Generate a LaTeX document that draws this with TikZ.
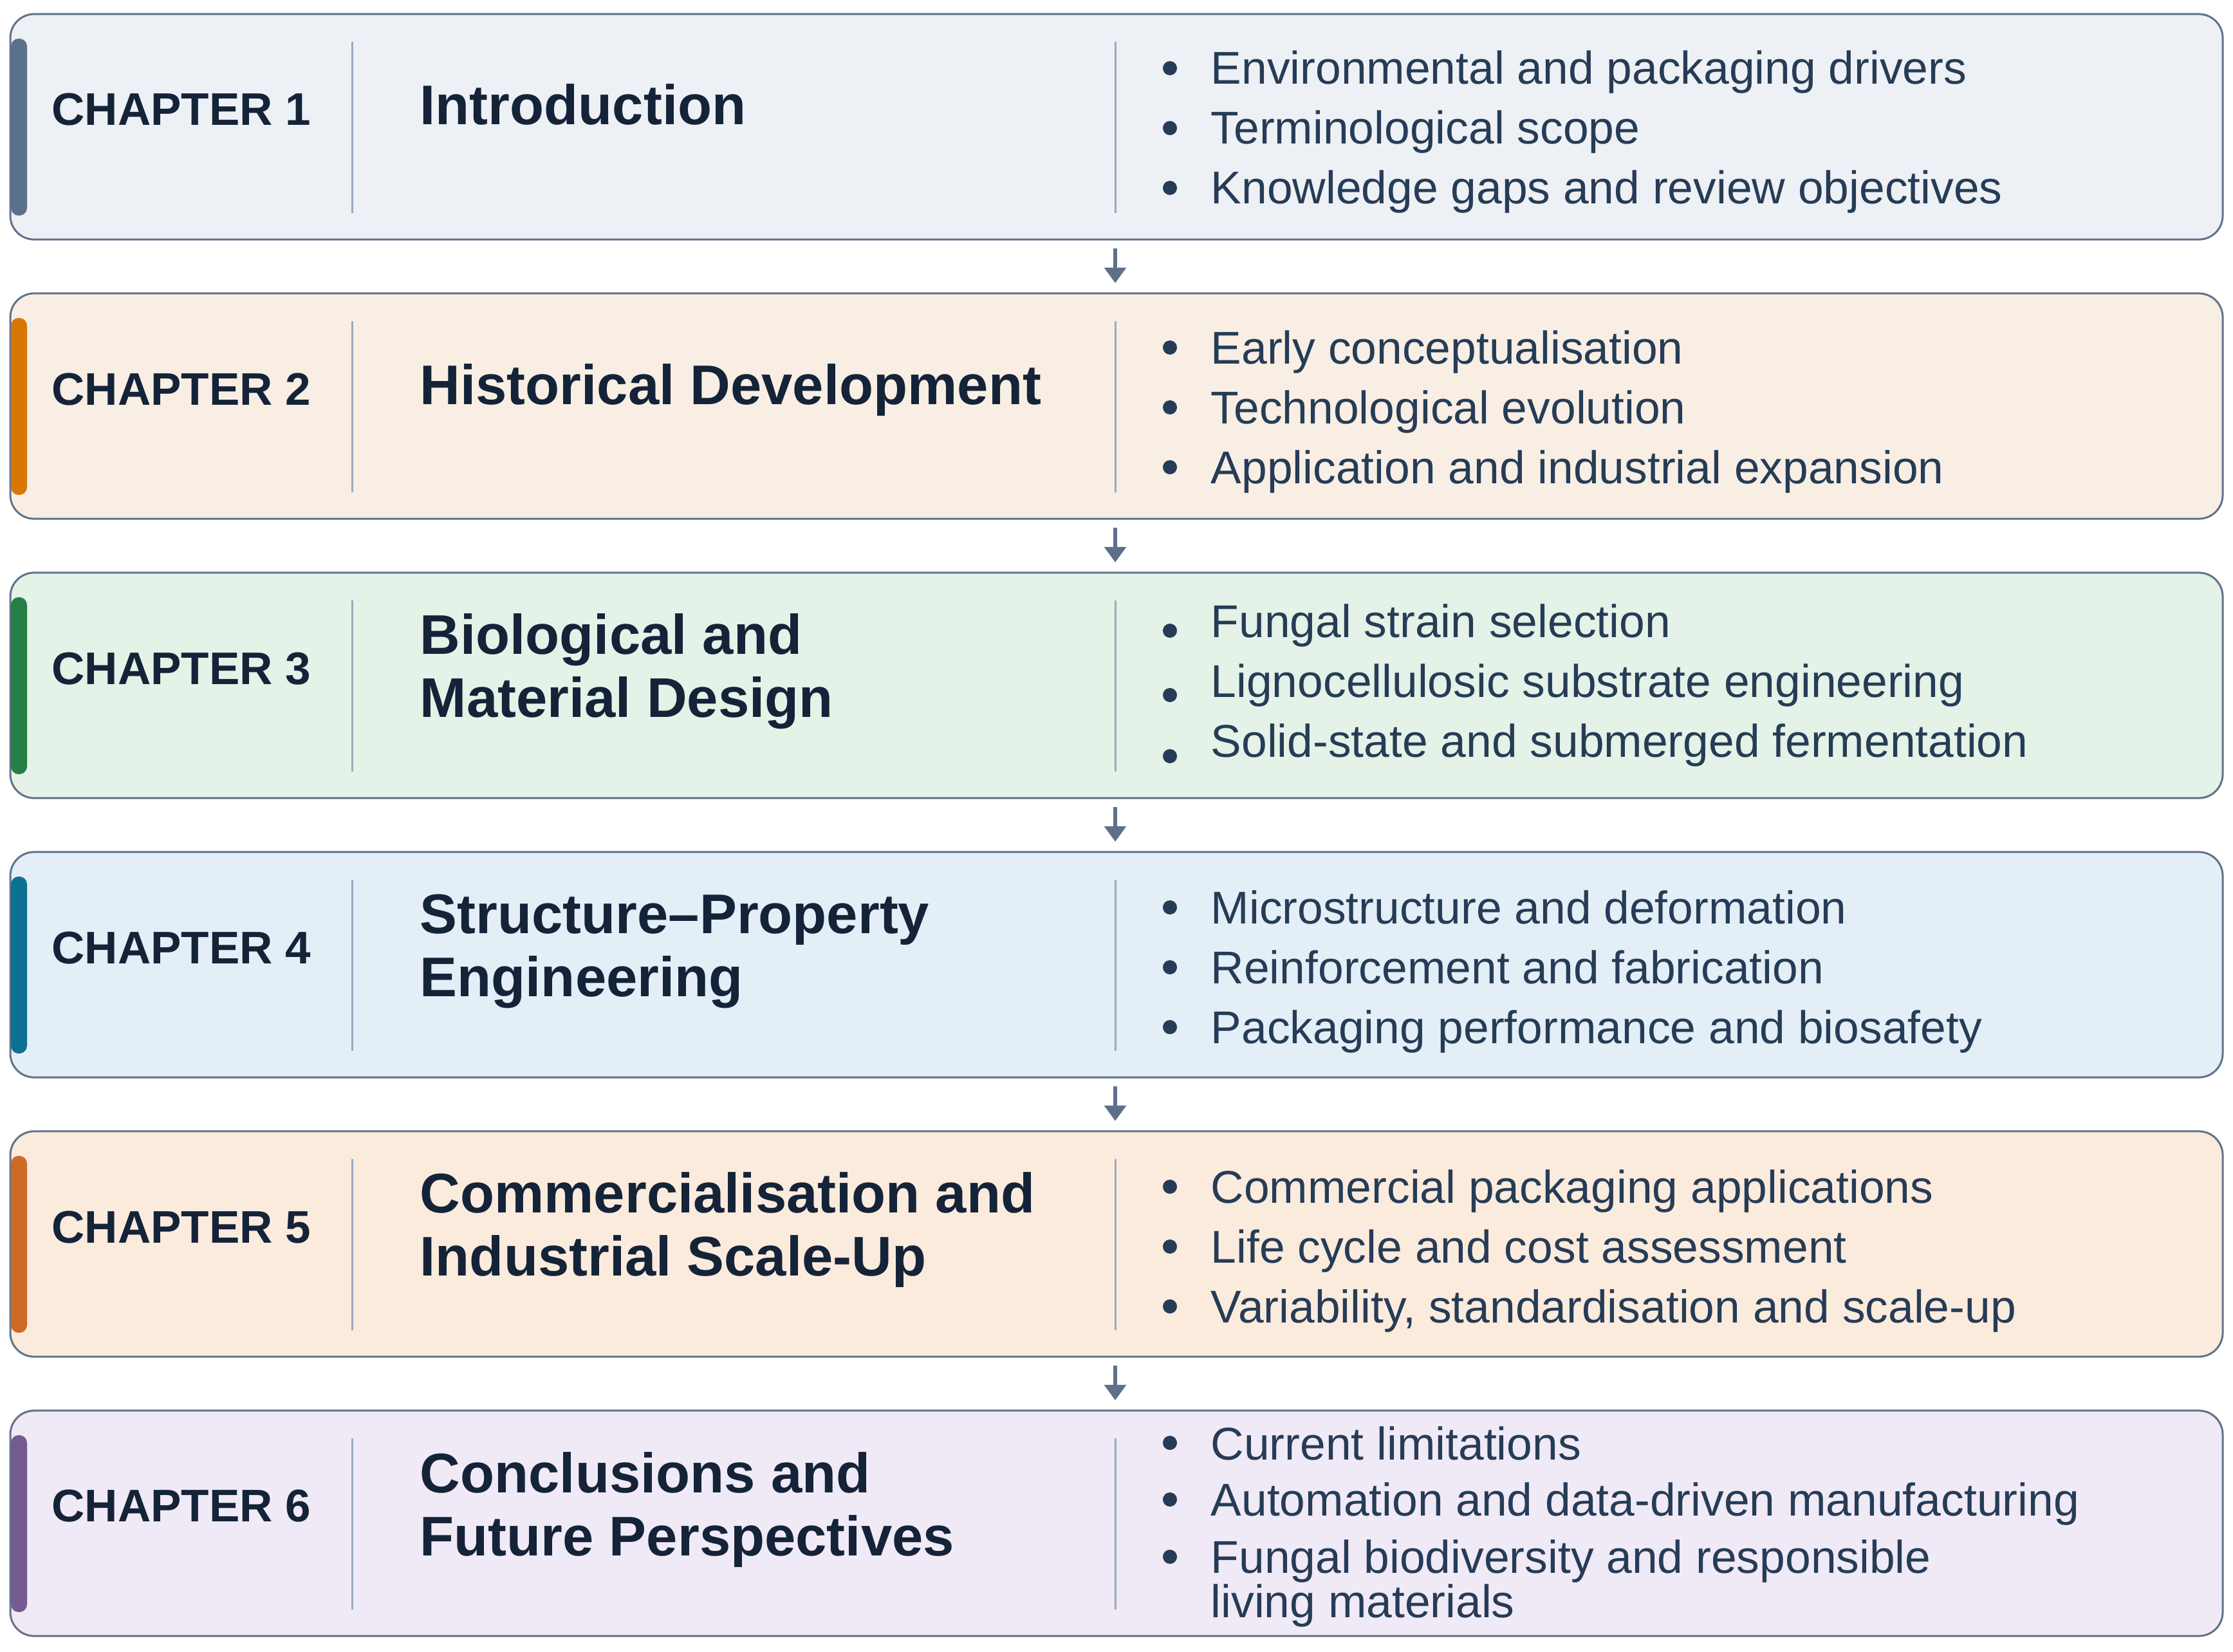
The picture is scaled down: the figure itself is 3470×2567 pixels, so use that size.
\documentclass[tikz,border=0pt]{standalone}
\usepackage{fontspec}
\setmainfont{Liberation Sans}
\usetikzlibrary{arrows.meta}
\definecolor{bordc}{HTML}{607389}
\definecolor{divc}{HTML}{9AAABD}
\definecolor{arrc}{HTML}{5E7089}
\definecolor{ttlc}{HTML}{142338}
\definecolor{bulc}{HTML}{263C56}
\definecolor{fillA}{HTML}{EDF0F5}\definecolor{barA}{HTML}{5B7189}
\definecolor{fillB}{HTML}{F8EEE4}\definecolor{barB}{HTML}{D97706}
\definecolor{fillC}{HTML}{E4F2E7}\definecolor{barC}{HTML}{257F45}
\definecolor{fillD}{HTML}{E3EEF7}\definecolor{barD}{HTML}{0E7090}
\definecolor{fillE}{HTML}{FBEBDD}\definecolor{barE}{HTML}{CF6A26}
\definecolor{fillF}{HTML}{F0E9F6}\definecolor{barF}{HTML}{765A92}
\tikzset{
  chbox/.style={draw=bordc, line width=0.03cm, rounded corners=0.37cm, minimum width=34.36cm, minimum height=3.5cm, inner sep=0pt, outer sep=0pt},
  accent/.style={rounded corners=0.12cm},
  divline/.style={draw=divc, line width=0.03cm},
  chap/.style={anchor=base, inner sep=0pt, text=ttlc, font=\fontsize{20.2pt}{24pt}\selectfont\bfseries},
  ttl/.style={anchor=base west, inner sep=0pt, text=ttlc, align=left, font=\fontsize{24.7pt}{27.6pt}\selectfont\bfseries},
  bul/.style={anchor=base west, inner sep=0pt, text=bulc, align=left, font=\fontsize{20.3pt}{19.35pt}\selectfont},
  dot/.style={fill=bulc},
  flow/.style={draw=arrc, line width=0.065cm, -{Triangle[length=0.24cm, width=0.33cm]}, shorten <=0.14cm, shorten >=0.16cm}
}
\begin{document}
\begin{tikzpicture}[x=0.01cm, y=-0.01cm]
\useasboundingbox[fill=white] (0,0) rectangle (3470,2567);
\coordinate (ax) at (1733,0);
% boxes
\node[chbox, fill=fillA] (b1) at (1735,197) {};
\node[chbox, fill=fillB] (b2) at (1735,631) {};
\node[chbox, fill=fillC] (b3) at (1735,1065) {};
\node[chbox, fill=fillD] (b4) at (1735,1499) {};
\node[chbox, fill=fillE] (b5) at (1735,1933) {};
\node[chbox, fill=fillF] (b6) at (1735,2367) {};
% accent bars and dividers
\foreach \t/\c in {22/barA, 456/barB, 890/barC, 1324/barD, 1758/barE, 2192/barF}{
  \fill[accent, \c] (17,\t+38) rectangle (42,\t+313);
  \draw[divline] (547,\t+43) -- (547,\t+309);
  \draw[divline] (1733,\t+43) -- (1733,\t+309);
}
% arrows
\draw[flow] (b1.south -| ax) -- (b2.north -| ax);
\draw[flow] (b2.south -| ax) -- (b3.north -| ax);
\draw[flow] (b3.south -| ax) -- (b4.north -| ax);
\draw[flow] (b4.south -| ax) -- (b5.north -| ax);
\draw[flow] (b5.south -| ax) -- (b6.north -| ax);
% chapter labels
\node[chap] (c1) at (282,195) {CHAPTER 1};
\node[chap] (c2) at (282,629) {CHAPTER 2};
\node[chap] (c3) at (282,1063) {CHAPTER 3};
\node[chap] (c4) at (282,1497) {CHAPTER 4};
\node[chap] (c5) at (282,1931) {CHAPTER 5};
\node[chap] (c6) at (282,2364) {CHAPTER 6};
% titles (base anchor = last line baseline)
\node[ttl] (t1) at (652,194) {Introduction};
\node[ttl] (t2) at (652,628) {Historical Development};
\node[ttl] (t3) at (652,1114) {Biological and\\Material Design};
\node[ttl] (t4) at (652,1548) {Structure–Property\\Engineering};
\node[ttl] (t5) at (652,1982) {Commercialisation and\\Industrial Scale-Up};
\node[ttl] (t6) at (652,2417) {Conclusions and\\Future Perspectives};
% bullets box 1
\fill[dot] (1818,106) circle (11);
\node[bul] (p11) at (1881,131) {Environmental and packaging drivers};
\fill[dot] (1818,199) circle (11);
\node[bul] (p12) at (1881,224) {Terminological scope};
\fill[dot] (1818,292) circle (11);
\node[bul] (p13) at (1881,317) {Knowledge gaps and review objectives};
% bullets box 2
\fill[dot] (1818,540) circle (11);
\node[bul] (p21) at (1881,565) {Early conceptualisation};
\fill[dot] (1818,633) circle (11);
\node[bul] (p22) at (1881,658) {Technological evolution};
\fill[dot] (1818,726) circle (11);
\node[bul] (p23) at (1881,751) {Application and industrial expansion};
% bullets box 3
\fill[dot] (1818,980) circle (11);
\node[bul] (p31) at (1881,990) {Fungal strain selection};
\fill[dot] (1818,1080) circle (11);
\node[bul] (p32) at (1881,1083) {Lignocellulosic substrate engineering};
\fill[dot] (1818,1175) circle (11);
\node[bul] (p33) at (1881,1176) {Solid-state and submerged fermentation};
% bullets box 4
\fill[dot] (1818,1410) circle (11);
\node[bul] (p41) at (1881,1435) {Microstructure and deformation};
\fill[dot] (1818,1503) circle (11);
\node[bul] (p42) at (1881,1528) {Reinforcement and fabrication};
\fill[dot] (1818,1596) circle (11);
\node[bul] (p43) at (1881,1621) {Packaging performance and biosafety};
% bullets box 5
\fill[dot] (1818,1844) circle (11);
\node[bul] (p51) at (1881,1869) {Commercial packaging applications};
\fill[dot] (1818,1937) circle (11);
\node[bul] (p52) at (1881,1962) {Life cycle and cost assessment};
\fill[dot] (1818,2030) circle (11);
\node[bul] (p53) at (1881,2055) {Variability, standardisation and scale-up};
% bullets box 6
\fill[dot] (1818,2242) circle (11);
\node[bul] (p61) at (1881,2268) {Current limitations};
\fill[dot] (1818,2330) circle (11);
\node[bul] (p62) at (1881,2355) {Automation and data-driven manufacturing};
\fill[dot] (1818,2419) circle (11);
\node[bul] (p63) at (1881,2513) {Fungal biodiversity and responsible\\living materials};
\end{tikzpicture}
\end{document}
